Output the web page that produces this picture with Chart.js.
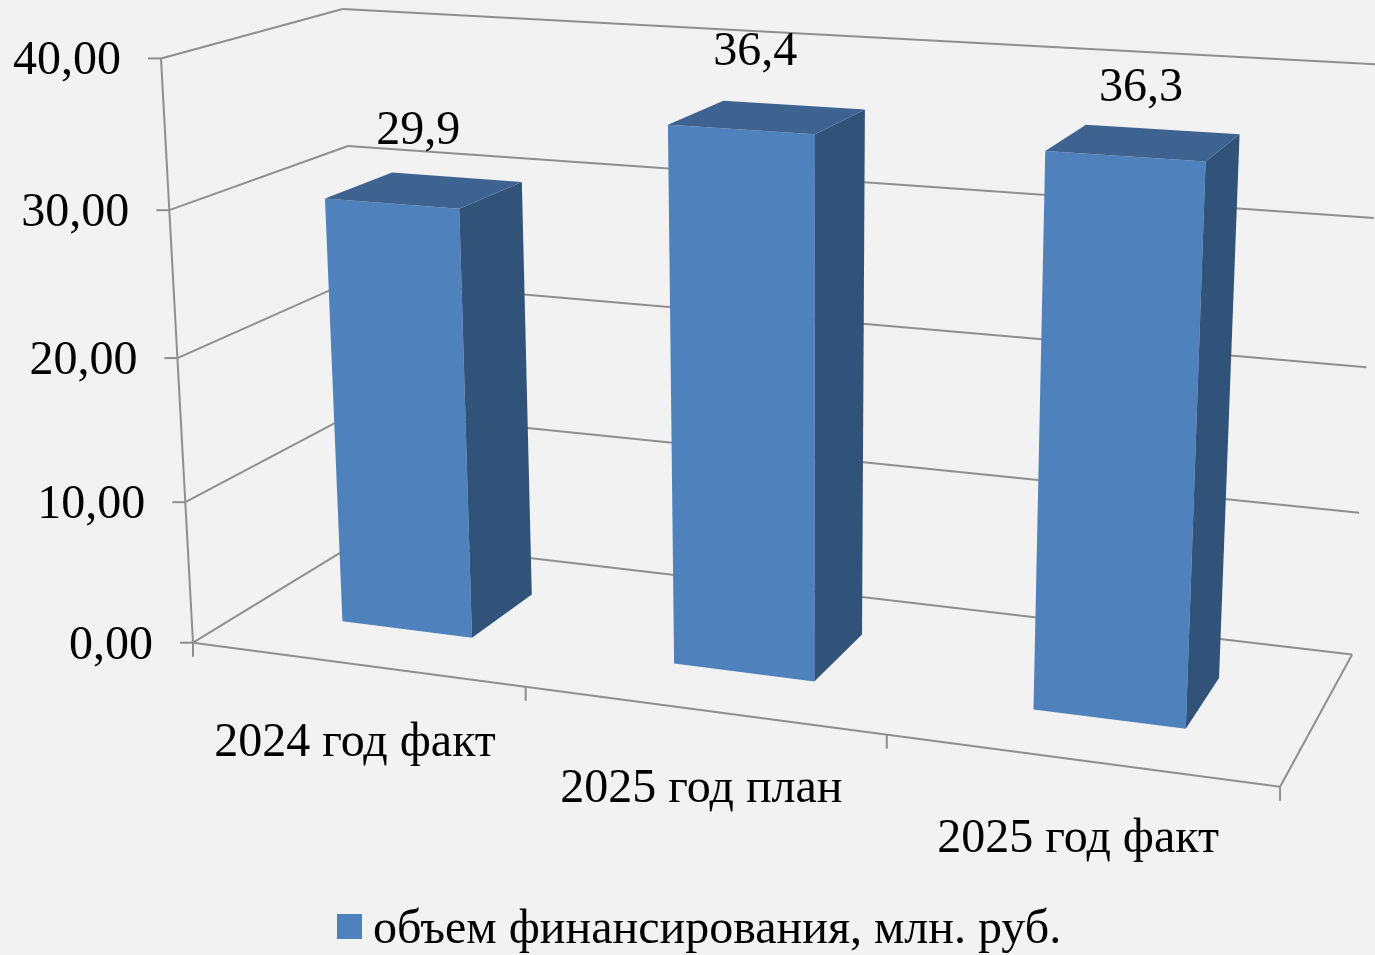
<!DOCTYPE html>
<html lang="ru">
<head>
<meta charset="utf-8">
<title>Объем финансирования</title>
<script src="https://cdn.jsdelivr.net/npm/chart.js@4"></script>
<style>
  html, body { margin: 0; padding: 0; background: #f2f2f2; overflow: hidden; }
  #wrap { width: 1375px; height: 955px; }
  canvas { filter: blur(0.6px); }
</style>
</head>
<body>
<div id="wrap"><canvas id="grafico"></canvas></div>
<script>
// Datos
const categorias = ['2024 год факт', '2025 год план', '2025 год факт'];
const valores = [29.9, 36.4, 36.3];
const etiquetas = ['29,9', '36,4', '36,3'];
const serie = 'объем финансирования, млн. руб.';
const ticksY = [0, 10, 20, 30, 40];

const COLOR_FRENTE = '#4f81bd';
const COLOR_LADO = '#31537a';
const COLOR_TOPE = '#3e6390';
const COLOR_GRID = '#8f8f8f';
const FUENTE = '48px "Liberation Serif", serif';

// Perspectiva: (x, y, z) normalizados 0..1 -> pixeles de pantalla
const ORIGEN = [193, 642.7];
const EJE_X = [936, 51.3];
const EJE_Y = [-40.05, -587.2];
const EJE_Z = [209.6, -46];
const PERSP = [-0.118, -0.05, 0.108];
const FONDO_Z = [0.3, 0.695];
// Ajuste fino de las etiquetas de valor respecto al centro del tope
const AJUSTE_ETIQUETA = [[-7, -46], [-13, -52], [-3, -41]];

function proyectar(x, y, z) {
  const d = 1 + PERSP[0] * x + PERSP[1] * y + PERSP[2] * z;
  return [
    (ORIGEN[0] + EJE_X[0] * x + EJE_Y[0] * y + EJE_Z[0] * z) / d,
    (ORIGEN[1] + EJE_X[1] * x + EJE_Y[1] * y + EJE_Z[1] * z) / d
  ];
}

function linea(ctx, a, b) {
  ctx.beginPath();
  ctx.moveTo(a[0], a[1]);
  ctx.lineTo(b[0], b[1]);
  ctx.stroke();
}

function cara(ctx, puntos, color) {
  ctx.fillStyle = color;
  ctx.beginPath();
  puntos.forEach((p, i) => i ? ctx.lineTo(p[0], p[1]) : ctx.moveTo(p[0], p[1]));
  ctx.closePath();
  ctx.fill();
}

// Dibuja todo en 3D a partir de las escalas de Chart.js
const plugin3D = {
  id: 'barras3d',
  beforeDatasetsDraw(chart) {
    const ctx = chart.ctx;
    const area = chart.chartArea;
    const escY = chart.scales.y;
    const normX = px => (px - area.left) / area.width;
    const normY = px => (area.bottom - px) / area.height;
    const banda = area.width / categorias.length;

    ctx.save();
    ctx.strokeStyle = COLOR_GRID;
    ctx.lineWidth = 2;

    // Rejilla: pared izquierda, pared de fondo y marcas del eje Y
    escY.ticks.forEach(t => {
      const y = normY(escY.getPixelForValue(t.value));
      const frente = proyectar(0, y, 0);
      const esquina = proyectar(0, y, 1);
      linea(ctx, frente, esquina);
      linea(ctx, esquina, proyectar(1, y, 1));
      linea(ctx, frente, [frente[0] - 13, frente[1]]);
    });
    // Suelo y eje vertical
    linea(ctx, proyectar(0, 0, 0), proyectar(0, 1, 0));
    linea(ctx, proyectar(0, 0, 0), proyectar(1, 0, 0));
    linea(ctx, proyectar(1, 0, 0), proyectar(1, 0, 1));
    // Marcas del eje X
    for (let i = 0; i <= categorias.length; i++) {
      const p = proyectar(normX(area.left + banda * i), 0, 0);
      linea(ctx, p, [p[0], p[1] + 14]);
    }

    // Barras
    const meta = chart.getDatasetMeta(0);
    meta.data.forEach(el => {
      const x0 = normX(el.x - el.width / 2);
      const x1 = normX(el.x + el.width / 2);
      const y1 = normY(el.y);
      const z0 = FONDO_Z[0];
      const z1 = FONDO_Z[1];
      cara(ctx, [proyectar(x0, 0, z0), proyectar(x1, 0, z0), proyectar(x1, y1, z0), proyectar(x0, y1, z0)], COLOR_FRENTE);
      cara(ctx, [proyectar(x1, 0, z0), proyectar(x1, 0, z1), proyectar(x1, y1, z1), proyectar(x1, y1, z0)], COLOR_LADO);
      cara(ctx, [proyectar(x0, y1, z0), proyectar(x1, y1, z0), proyectar(x1, y1, z1), proyectar(x0, y1, z1)], COLOR_TOPE);
    });

    // Textos
    ctx.fillStyle = '#000';
    ctx.font = FUENTE;
    ctx.textBaseline = 'alphabetic';

    ctx.textAlign = 'right';
    escY.ticks.forEach(t => {
      const p = proyectar(0, normY(escY.getPixelForValue(t.value)), 0);
      ctx.fillText(t.label, p[0] - 40, p[1] + 16);
    });

    ctx.textAlign = 'center';
    meta.data.forEach((el, i) => {
      const p = proyectar(normX(el.x), normY(el.y), 0.5);
      ctx.fillText(etiquetas[i], p[0] + AJUSTE_ETIQUETA[i][0], p[1] + AJUSTE_ETIQUETA[i][1]);
      const c = proyectar(normX(el.x), 0, 0);
      ctx.fillText(categorias[i], c[0] - 1, c[1] + 92);
    });

    // Leyenda
    ctx.fillStyle = COLOR_FRENTE;
    ctx.fillRect(337, 914, 25, 25);
    ctx.fillStyle = '#000';
    ctx.textAlign = 'left';
    ctx.fillText(chart.data.datasets[0].label, 373, 943);
    ctx.restore();
    return false;
  }
};

new Chart(document.getElementById('grafico'), {
  type: 'bar',
  data: {
    labels: categorias,
    datasets: [{
      label: serie,
      data: valores,
      backgroundColor: COLOR_FRENTE,
      barPercentage: 0.4,
      categoryPercentage: 1
    }]
  },
  plugins: [plugin3D],
  options: {
    responsive: true,
    maintainAspectRatio: false,
    animation: false,
    scales: {
      x: { display: false },
      y: {
        display: false,
        min: 0,
        max: 40,
        afterBuildTicks(escala) {
          escala.ticks = ticksY.map(v => ({ value: v }));
        },
        ticks: { callback: v => v.toFixed(2).replace('.', ',') }
      }
    },
    plugins: {
      tooltip: { enabled: false },
      legend: { display: false }
    }
  }
});
</script>
</body>
</html>
